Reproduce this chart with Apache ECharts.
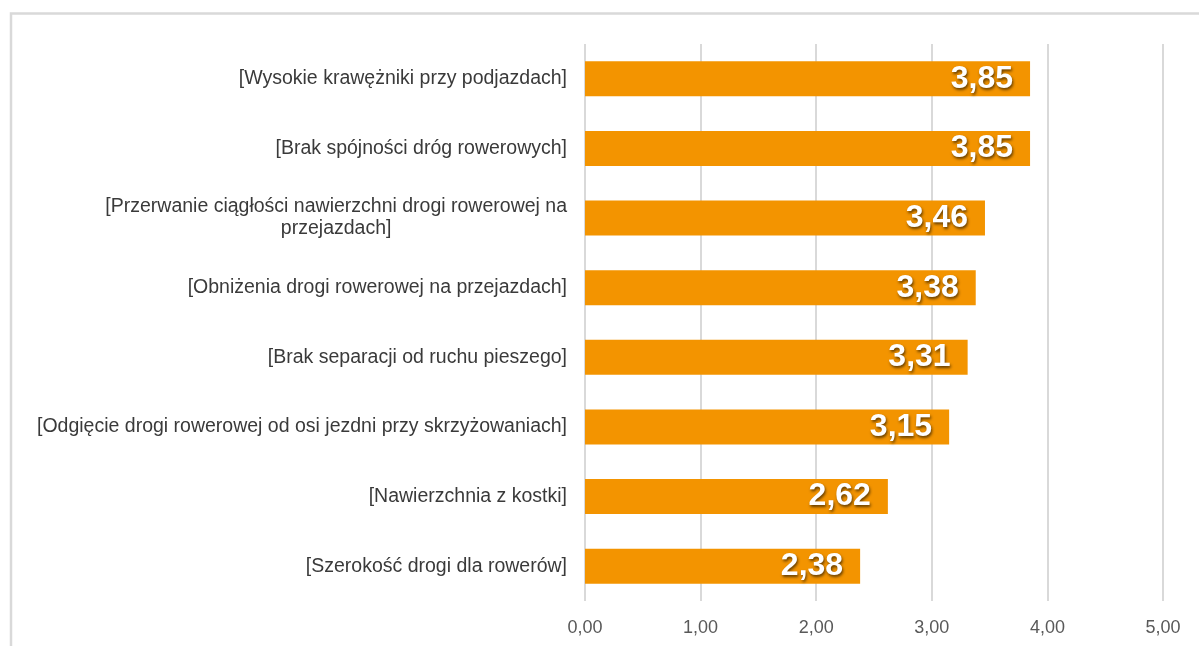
<!DOCTYPE html>
<html>
<head>
<meta charset="utf-8">
<script src="https://cdn.jsdelivr.net/npm/echarts@6/dist/echarts.min.js"></script>
<style>
  html, body { margin: 0; padding: 0; background: #fff; }
  #main { width: 1199px; height: 646px; }
</style>
</head>
<body>
<div id="main"></div>
<script>
const categories = [
  '[Wysokie krawężniki przy podjazdach]',
  '[Brak spójności dróg rowerowych]',
  '[Przerwanie ciągłości nawierzchni drogi rowerowej na\nprzejazdach]',
  '[Obniżenia drogi rowerowej na przejazdach]',
  '[Brak separacji od ruchu pieszego]',
  '[Odgięcie drogi rowerowej od osi jezdni przy skrzyżowaniach]',
  '[Nawierzchnia z kostki]',
  '[Szerokość drogi dla rowerów]'
];
const values = [3.85, 3.85, 3.46, 3.38, 3.31, 3.15, 2.62, 2.38];
const xTicks = [0, 1, 2, 3, 4, 5];

const fmt = v => v.toFixed(2).replace('.', ',');

const chart = echarts.init(document.getElementById('main'));
chart.setOption({
  animation: false,
  backgroundColor: '#fff',
  graphic: [{
    type: 'rect',
    shape: { x: 11, y: 13.5, width: 1400, height: 900 },
    style: { fill: 'none', stroke: '#d9d9d9', lineWidth: 2.5 },
    silent: true
  }],
  grid: {
    left: 585,
    right: 36,
    top: 44,
    bottom: 45
  },
  xAxis: {
    type: 'value',
    min: xTicks[0],
    max: xTicks[xTicks.length - 1],
    interval: 1,
    axisLine: { show: false },
    axisTick: { show: false },
    splitLine: { lineStyle: { color: '#d9d9d9', width: 2 } },
    axisLabel: {
      margin: 18,
      color: '#595959',
      fontFamily: 'Liberation Sans, Arial, sans-serif',
      fontSize: 18,
      formatter: v => fmt(v)
    }
  },
  yAxis: {
    type: 'category',
    inverse: true,
    data: categories,
    axisLine: { show: false },
    axisTick: { show: false },
    axisLabel: {
      margin: 18,
      formatter: v => v.split('\n').map(s => '{c|' + s + '}').join('\n'),
      rich: {
        c: {
          align: 'center',
          color: '#3a3a3a',
          fontFamily: 'Liberation Sans, Arial, sans-serif',
          fontSize: 19.5,
          lineHeight: 22
        }
      }
    }
  },
  series: [{
    type: 'bar',
    data: values,
    barWidth: 35,
    itemStyle: { color: '#f39400' },
    label: {
      show: true,
      position: 'insideRight',
      distance: 17,
      formatter: p => fmt(p.value),
      color: '#fff',
      fontFamily: 'Liberation Sans, Arial, sans-serif',
      fontWeight: 'bold',
      fontSize: 32,
      textShadowColor: 'rgba(0,0,0,0.6)',
      textShadowBlur: 3,
      textShadowOffsetX: 1,
      textShadowOffsetY: 2
    }
  }]
});
</script>
</body>
</html>
